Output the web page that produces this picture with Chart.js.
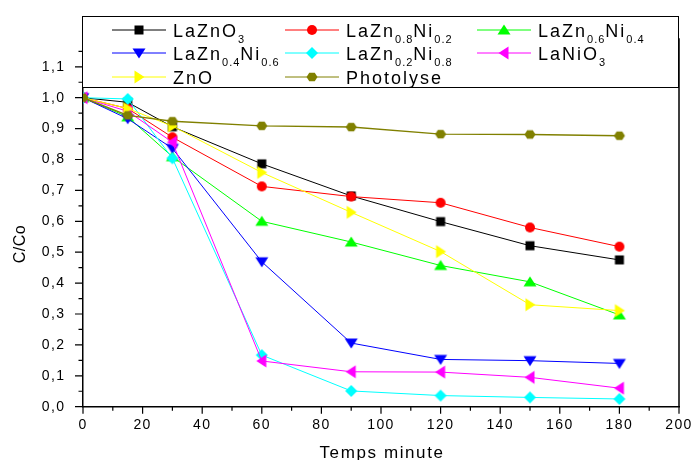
<!DOCTYPE html>
<html>
<head>
<meta charset="utf-8">
<script src="https://cdn.jsdelivr.net/npm/chart.js@4.4.0/dist/chart.umd.min.js"></script>
<style>
  html, body { margin: 0; padding: 0; background: #fff; }
  canvas { display: block; }
</style>
</head>
<body>
<canvas id="chart" width="691" height="460"></canvas>
<script>
const FONT = "'Liberation Sans', Arial, sans-serif";

// --- Data ---
const times = [0, 15, 30, 60, 90, 120, 150, 180];
const laZnO3     = [1.0, 0.985, 0.906, 0.786, 0.682, 0.599, 0.521, 0.475];
const laZn08Ni02 = [1.0, 0.965, 0.872, 0.713, 0.680, 0.660, 0.580, 0.518];
const laZn06Ni04 = [1.0, 0.938, 0.809, 0.600, 0.533, 0.457, 0.404, 0.297];
const laZn04Ni06 = [1.0, 0.932, 0.836, 0.469, 0.206, 0.153, 0.149, 0.140];
const laZn02Ni08 = [1.0, 0.996, 0.804, 0.167, 0.051, 0.036, 0.030, 0.025];
const laNiO3     = [1.0, 0.956, 0.856, 0.148, 0.113, 0.112, 0.095, 0.060];
const znO        = [1.0, 0.965, 0.908, 0.758, 0.629, 0.502, 0.330, 0.311];
const photolyse  = [1.0, 0.943, 0.924, 0.909, 0.905, 0.882, 0.881, 0.877];

// "_" marks a subscript in the legend names
const seriesNames = ['LaZnO_3', 'LaZn_0.8Ni_0.2', 'LaZn_0.6Ni_0.4', 'LaZn_0.4Ni_0.6',
                     'LaZn_0.2Ni_0.8', 'LaNiO_3', 'ZnO', 'Photolyse'];
const seriesValues = [laZnO3, laZn08Ni02, laZn06Ni04, laZn04Ni06, laZn02Ni08, laNiO3, znO, photolyse];

const xTicks = [0, 20, 40, 60, 80, 100, 120, 140, 160, 180, 200];
const yTicks = [0, 0.1, 0.2, 0.3, 0.4, 0.5, 0.6, 0.7, 0.8, 0.9, 1.0, 1.1];
const xTitle = 'Temps minute';
const yTitle = 'C/Co';

// --- Styles ---
const colors  = ['#000000', '#ff0000', '#00ff00', '#0000ff', '#00ffff', '#ff00ff', '#ffff00', '#808000'];
const markers = ['square', 'circle', 'up', 'down', 'diamond', 'left', 'right', 'hexagon'];

function drawMarker(ctx, shape, cx, cy, color) {
    ctx.fillStyle = color;
    ctx.beginPath();
    switch (shape) {
        case 'square':
            ctx.rect(cx - 4.5, cy - 4.5, 9, 9);
            break;
        case 'circle':
            ctx.arc(cx, cy, 5, 0, Math.PI * 2);
            break;
        case 'up':
            ctx.moveTo(cx, cy - 5.5); ctx.lineTo(cx + 6.5, cy + 4.5); ctx.lineTo(cx - 6.5, cy + 4.5);
            break;
        case 'down':
            ctx.moveTo(cx, cy + 5.5); ctx.lineTo(cx + 6.5, cy - 4.5); ctx.lineTo(cx - 6.5, cy - 4.5);
            break;
        case 'left':
            ctx.moveTo(cx - 5.5, cy); ctx.lineTo(cx + 4.5, cy - 6.5); ctx.lineTo(cx + 4.5, cy + 6.5);
            break;
        case 'right':
            ctx.moveTo(cx + 5.5, cy); ctx.lineTo(cx - 4.5, cy - 6.5); ctx.lineTo(cx - 4.5, cy + 6.5);
            break;
        case 'diamond':
            ctx.moveTo(cx, cy - 6); ctx.lineTo(cx + 6, cy); ctx.lineTo(cx, cy + 6); ctx.lineTo(cx - 6, cy);
            break;
        case 'hexagon':
            for (let i = 0; i < 6; i++) {
                const a = i * Math.PI / 3;
                const px = cx + 5.5 * Math.cos(a), py = cy + 5 * Math.sin(a);
                if (i === 0) ctx.moveTo(px, py); else ctx.lineTo(px, py);
            }
            break;
    }
    ctx.closePath();
    ctx.fill();
}

function markerImage(shape, color) {
    const c = document.createElement('canvas');
    c.width = 16; c.height = 16;
    drawMarker(c.getContext('2d'), shape, 8, 8, color);
    return c;
}

// text with subscripts ("_0.8" -> small, lowered)
function drawRichText(ctx, text, x, y) {
    const parts = text.split(/_([\d.]+)/);
    ctx.textAlign = 'left';
    ctx.textBaseline = 'alphabetic';
    parts.forEach((p, i) => {
        if (!p) return;
        if (i % 2 === 0) {
            ctx.font = '18px ' + FONT;
            ctx.letterSpacing = '2px';
            ctx.fillText(p, x, y);
        } else {
            ctx.font = '11px ' + FONT;
            ctx.letterSpacing = '1px';
            ctx.fillText(p, x, y + 6);
        }
        x += ctx.measureText(p).width;
    });
}

// --- Plugin: background, tick marks, frame, axis titles, legend box ---
const decorPlugin = {
    id: 'decor',
    beforeDraw(chart) {
        const ctx = chart.ctx;
        ctx.save();
        ctx.fillStyle = '#fff';
        ctx.fillRect(0, 0, chart.width, chart.height);
        ctx.restore();
        ctx.letterSpacing = '1.4px';
    },
    afterDraw(chart) {
        const ctx = chart.ctx;
        const xs = chart.scales.x, ys = chart.scales.y;
        // plot box taken from the scales themselves
        const left = xs.getPixelForValue(xs.min), right = xs.getPixelForValue(xs.max);
        const bottom = ys.getPixelForValue(ys.min), top = ys.getPixelForValue(ys.max);
        ctx.save();

        // tick marks (major + minor), outside
        ctx.strokeStyle = '#000';
        ctx.lineWidth = 1.2;
        ctx.beginPath();
        const xHalf = (xTicks[1] - xTicks[0]) / 2;
        xTicks.forEach(v => {
            const px = xs.getPixelForValue(v);
            ctx.moveTo(px, bottom); ctx.lineTo(px, bottom + 7);
            if (v + xHalf < xs.max) {
                const pm = xs.getPixelForValue(v + xHalf);
                ctx.moveTo(pm, bottom); ctx.lineTo(pm, bottom + 4);
            }
        });
        const yHalf = (yTicks[1] - yTicks[0]) / 2;
        yTicks.forEach(v => {
            const py = ys.getPixelForValue(v);
            ctx.moveTo(left, py); ctx.lineTo(left - 8, py);
            if (v + yHalf < ys.max) {
                const pm = ys.getPixelForValue(v + yHalf);
                ctx.moveTo(left, pm); ctx.lineTo(left - 4.5, pm);
            }
        });
        ctx.stroke();

        // top and right frame
        ctx.lineWidth = 1.5;
        ctx.beginPath();
        ctx.moveTo(left, top); ctx.lineTo(right, top); ctx.lineTo(right, bottom);
        ctx.stroke();

        // axis titles
        ctx.fillStyle = '#000';
        ctx.textAlign = 'center';
        ctx.font = '17px ' + FONT;
        ctx.letterSpacing = '1.6px';
        ctx.textBaseline = 'alphabetic';
        ctx.fillText(xTitle, (left + right) / 2 + 1, 458);

        ctx.save();
        ctx.translate(21, 244);
        ctx.rotate(-Math.PI / 2);
        ctx.font = '16px ' + FONT;
        ctx.letterSpacing = '0.5px';
        ctx.textBaseline = 'middle';
        ctx.fillText(yTitle, 0, 0);
        ctx.restore();

        // legend box
        ctx.fillStyle = '#fff';
        ctx.fillRect(82, 16, 597, 72);
        ctx.strokeStyle = '#000';
        ctx.lineWidth = 1;
        ctx.strokeRect(82.5, 16.5, 596, 71);

        const colX = [112, 285, 477];
        const rowY = [30, 53, 77];
        seriesNames.forEach((name, i) => {
            const x0 = colX[i % 3], y0 = rowY[Math.floor(i / 3)];
            ctx.strokeStyle = colors[i];
            ctx.lineWidth = 1;
            ctx.beginPath();
            ctx.moveTo(x0, y0); ctx.lineTo(x0 + 54, y0);
            ctx.stroke();
            drawMarker(ctx, markers[i], x0 + 27, y0, colors[i]);
            ctx.fillStyle = '#000';
            drawRichText(ctx, name, x0 + 61, y0 + 7);
        });

        ctx.restore();
    }
};

// --- Chart ---
const ctx = document.getElementById('chart').getContext('2d');

const datasets = seriesValues.map((vals, i) => ({
    label: seriesNames[i],
    data: times.map((t, k) => ({ x: t, y: vals[k] })),
    borderColor: colors[i],
    backgroundColor: colors[i],
    borderWidth: i === 7 ? 1.4 : 1,
    pointStyle: markerImage(markers[i], colors[i]),
    pointRadius: 6,
    tension: 0,
    order: seriesValues.length - i
}));

const chart = new Chart(ctx, {
    type: 'line',
    data: { datasets: datasets },
    options: {
        responsive: false,
        animation: false,
        layout: { padding: { left: 0, right: 12, top: 39, bottom: 0 } },
        plugins: {
            legend: { display: false },
            tooltip: { enabled: false }
        },
        scales: {
            x: {
                type: 'linear',
                min: 0,
                max: 200,
                afterBuildTicks: s => { s.ticks = xTicks.map(v => ({ value: v })); },
                afterFit: s => { s.height = 53.3; s.paddingRight = 0; s.paddingLeft = 0; },
                grid: { display: false, drawTicks: false },
                border: { display: true, color: '#000', width: 1.5 },
                ticks: {
                    color: '#000',
                    font: { family: FONT, size: 14 },
                    padding: 10,
                    maxRotation: 0,
                    autoSkip: false,
                    callback: v => String(v)
                }
            },
            y: {
                type: 'linear',
                min: 0,
                max: 1.19,
                afterBuildTicks: s => { s.ticks = yTicks.map(v => ({ value: v })); },
                afterFit: s => { s.width = 83; },
                grid: { display: false, drawTicks: false },
                border: { display: true, color: '#000', width: 1.5 },
                ticks: {
                    color: '#000',
                    font: { family: FONT, size: 14 },
                    padding: 17.5,
                    autoSkip: false,
                    callback: v => v.toFixed(1).replace('.', ',')
                }
            }
        }
    },
    plugins: [decorPlugin]
});
</script>
</body>
</html>
